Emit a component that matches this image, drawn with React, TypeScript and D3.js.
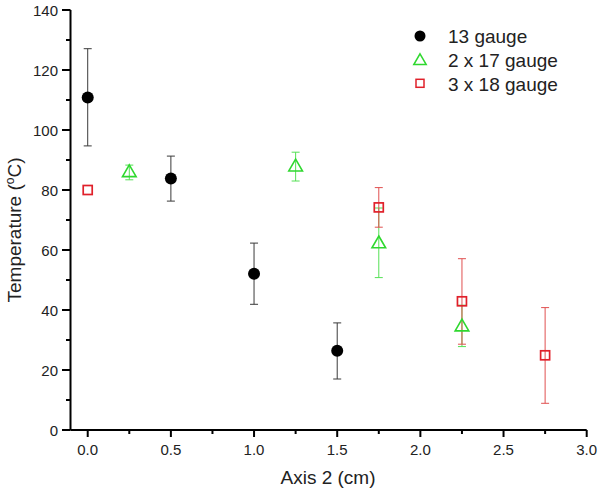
import React from "react";
import * as d3 from "d3";

const xs13 = [0, 0.5, 1.0, 1.5];
const ys13 = [110.8, 83.8, 52.1, 26.4];
const lo13 = [94.7, 76.3, 41.9, 17.0];
const hi13 = [127.1, 91.3, 62.3, 35.7];

const xs17 = [0.25, 1.25, 1.75, 2.25];
const ys17 = [86.1, 88.0, 62.4, 34.7];
const lo17 = [83.4, 83.0, 50.8, 27.8];
const hi17 = [88.3, 92.6, 74.0, 41.6];

const xs18 = [0, 1.75, 2.25, 2.75];
const ys18 = [80.0, 74.2, 42.9, 24.9];
const lo18 = [80.0, 67.6, 28.6, 8.9];
const hi18 = [80.0, 80.8, 57.1, 40.8];

const xTicks = [0, 0.5, 1.0, 1.5, 2.0, 2.5, 3.0];
const xMinor = [0.25, 0.75, 1.25, 1.75, 2.25, 2.75];
const yTicks = [0, 20, 40, 60, 80, 100, 120, 140];
const yMinor = [10, 30, 50, 70, 90, 110, 130];

const legendLabels = ["13 gauge", "2 x 17 gauge", "3 x 18 gauge"];

const BLACK = "#000000";
const BLACK_ERR = "#3a3a3a";
const GREEN = "#2fd82f";
const GREEN_ERR = "#55e055";
const RED = "#e0202a";
const RED_ERR = "#e05050";

const FONT = "'Liberation Sans', Arial, sans-serif";

export default function App() {
  const W = 600, H = 491;
  const x = d3.scaleLinear().domain([-0.1035, 3.0]).range([70.5, 586.7]);
  const y = d3.scaleLinear().domain([0, 140]).range([430, 10]);
  const cap = 4;

  const errBars = (xsA: number[], lo: number[], hi: number[], color: string) =>
    xsA.map((v, i) =>
      lo[i] === hi[i] ? null : (
        <g key={i} stroke={color} strokeWidth={1}>
          <line x1={x(v)} x2={x(v)} y1={y(lo[i])} y2={y(hi[i])} />
          <line x1={x(v) - cap} x2={x(v) + cap} y1={y(lo[i])} y2={y(lo[i])} />
          <line x1={x(v) - cap} x2={x(v) + cap} y1={y(hi[i])} y2={y(hi[i])} />
        </g>
      )
    );

  const tri = (cx: number, cy: number, s: number) =>
    `M${cx},${cy - s * 0.62}L${cx + s * 0.62},${cy + s * 0.45}L${cx - s * 0.62},${cy + s * 0.45}Z`;

  return (
    <svg width={W} height={H} style={{ position: "absolute", left: 0, top: 0 }} fontFamily={FONT}>
      <rect width={W} height={H} fill="#fff" />
      {/* axes */}
      <line x1={x(-0.1035)} x2={x(3.0)} y1={430} y2={430} stroke="#000" strokeWidth={2} />
      <line x1={70.5} x2={70.5} y1={y(0)} y2={y(140)} stroke="#000" strokeWidth={2} />
      {xTicks.map((t) => (
        <g key={"xt" + t}>
          <line x1={x(t)} x2={x(t)} y1={430} y2={437} stroke="#000" strokeWidth={2} />
          <text x={x(t)} y={455} textAnchor="middle" fontSize={15} fill="#222">
            {t.toFixed(1)}
          </text>
        </g>
      ))}
      {xMinor.map((t) => (
        <line key={"xm" + t} x1={x(t)} x2={x(t)} y1={430} y2={434} stroke="#000" strokeWidth={2} />
      ))}
      {yTicks.map((t) => (
        <g key={"yt" + t}>
          <line x1={62} x2={70.5} y1={y(t)} y2={y(t)} stroke="#000" strokeWidth={2} />
          <text x={58} y={y(t) + 5.5} textAnchor="end" fontSize={15} fill="#222">
            {t}
          </text>
        </g>
      ))}
      {yMinor.map((t) => (
        <line key={"ym" + t} x1={66} x2={70.5} y1={y(t)} y2={y(t)} stroke="#000" strokeWidth={2} />
      ))}
      {/* axis titles */}
      <text x={328} y={484} textAnchor="middle" fontSize={19} fill="#222">
        Axis 2 (cm)
      </text>
      <text transform="translate(21,230) rotate(-90)" textAnchor="middle" fontSize={19} fill="#222">
        Temperature (<tspan fontSize={12} dy={-7}>o</tspan>
        <tspan dy={7}>C)</tspan>
      </text>
      {/* error bars */}
      {errBars(xs13, lo13, hi13, BLACK_ERR)}
      {errBars(xs17, lo17, hi17, GREEN_ERR)}
      {errBars(xs18, lo18, hi18, RED_ERR)}
      {/* markers */}
      {xs13.map((v, i) => (
        <circle key={"c" + i} cx={x(v)} cy={y(ys13[i])} r={6} fill={BLACK} />
      ))}
      {xs17.map((v, i) => (
        <path key={"t" + i} d={tri(x(v), y(ys17[i]), 11)} fill="none" stroke={GREEN} strokeWidth={1.6} />
      ))}
      {xs18.map((v, i) => (
        <rect key={"s" + i} x={x(v) - 4.5} y={y(ys18[i]) - 4.5} width={9} height={9} fill="none" stroke={RED} strokeWidth={1.7} />
      ))}
      {/* legend */}
      <circle cx={420} cy={36} r={5.5} fill={BLACK} />
      <path d={tri(420, 60, 10)} fill="none" stroke={GREEN} strokeWidth={1.5} />
      <rect x={416} y={79.3} width={8} height={8} fill="none" stroke={RED} strokeWidth={1.5} />
      {legendLabels.map((l, i) => (
        <text key={l} x={448} y={[36, 60, 83.5][i] + 7} fontSize={19} fill="#222">
          {l}
        </text>
      ))}
    </svg>
  );
}
